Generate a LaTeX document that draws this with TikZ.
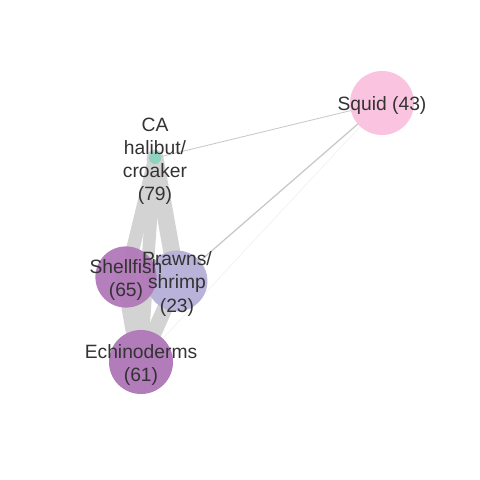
\documentclass[tikz,border=0pt]{standalone}
\usepackage{fontspec}
\setmainfont{Liberation Sans}
\usetikzlibrary{backgrounds}
\definecolor{edgegrey}{HTML}{D3D3D3}
\definecolor{thingrey}{HTML}{C8C8C8}
\definecolor{faintgrey}{HTML}{EFEFEF}
\definecolor{txt}{HTML}{333333}
\definecolor{teal}{HTML}{8DD3C0}
\definecolor{plum}{HTML}{B27BBA}
\definecolor{lavender}{HTML}{B9B3DA}
\definecolor{pink}{HTML}{FAC3DF}
\tikzset{
  vert/.style={circle, draw=none, inner sep=0pt, minimum size=#1},
  lab/.style={text=txt, align=center, inner sep=0pt, yshift=-2.1pt, font=\fontsize{13.7}{16.4}\selectfont},
  band/.style={draw=edgegrey, line width=#1, line cap=round},
  thin/.style={draw=thingrey, line width=#1},
}

\begin{document}
\begin{tikzpicture}[x=0.025cm, y=-0.025cm]
  \useasboundingbox (0,0) rectangle (480,480);

  % vertices
  \node[vert=0.3cm, fill=teal] (ca) at (155,158) {};
  \node[vert=1.6cm, fill=pink] (squid) at (382,103) {};
  \node[vert=1.52cm, fill=lavender] (prawn) at (177,281) {};
  \node[vert=1.53cm, fill=plum, opacity=0.97] (shell) at (126,277) {};
  \node[vert=1.6cm, fill=plum] (echino) at (141,362) {};

  % edges under the vertices
  \begin{scope}[on background layer]
    \draw[band=9.5pt] (ca.center) -- (shell.center);
    \draw[band=9pt] (ca.center) -- (echino.center);
    \draw[band=12pt] (ca.center) -- (prawn.center);
    \draw[band=14pt] (shell.center) -- (echino.center);
    \draw[band=11pt] (prawn.center) -- (echino.center);
    \draw[thin=0.6pt] (ca.center) -- (squid.center);
    \draw[thin=0.9pt] (prawn.center) -- (squid.center);
    \draw[draw=faintgrey, line width=0.4pt] (echino.center) -- (squid.center);
  \end{scope}

  % labels
  \node[lab] (ca-lab) at (ca) {CA\\halibut/\\croaker\\(79)};
  \node[lab] (squid-lab) at (squid) {Squid (43)};
  \node[lab] (prawn-lab) at (prawn) {Prawns/\\shrimp\\(23)};
  \node[lab] (shell-lab) at (shell) {Shellfish\\(65)};
  \node[lab] (echino-lab) at (echino) {Echinoderms\\(61)};
\end{tikzpicture}
\end{document}
